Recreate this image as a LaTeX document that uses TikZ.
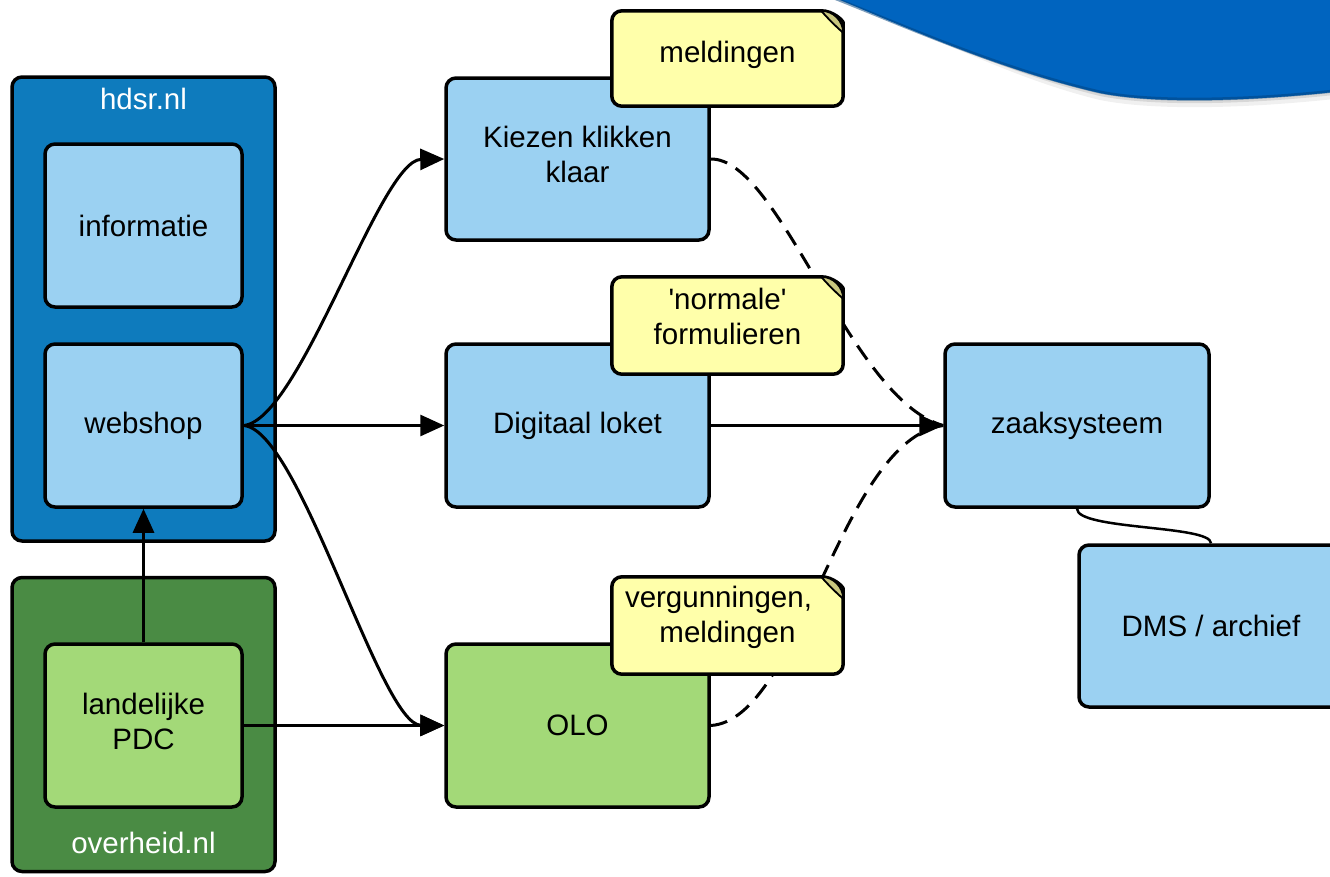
\documentclass[tikz,border=0pt]{standalone}
\usepackage{fontspec}
\setmainfont{Liberation Sans}
\usetikzlibrary{arrows.meta,calc}
\definecolor{hdsrblue}{HTML}{0E7BBD}
\definecolor{lightblue}{HTML}{9BD1F2}
\definecolor{darkgreen}{HTML}{4A8B44}
\definecolor{lightgreen}{HTML}{A3D978}
\definecolor{noteyellow}{HTML}{FFFFAA}
\definecolor{foldolive}{HTML}{C9C77E}
\definecolor{waveblue}{HTML}{0064BF}
\newcommand{\notedraw}[1]{%
  \draw[notestyle,rounded corners=10pt] ($(#1.north east)+(-22,0)$) -- (#1.north west) -- (#1.south west) -- (#1.south east) -- ($(#1.north east)+(0,-22)$) [sharp corners] .. controls ($(#1.north east)+(0,-10)$) and ($(#1.north east)+(-10,0)$) .. cycle;
  \filldraw[fill=foldolive,draw=black,line width=1.8pt] ($(#1.north east)+(-22,0)$) .. controls ($(#1.north east)+(-10,0)$) and ($(#1.north east)+(0,-10)$) .. ($(#1.north east)+(0,-22)$) .. controls ($(#1.north east)+(-6,-17)$) and ($(#1.north east)+(-17,-6)$) .. cycle;
}
\begin{document}
\begin{tikzpicture}[x=1pt,y=1pt,
  txtfont/.style={font=\fontsize{29.5pt}{35pt}\selectfont},
  box/.style={draw=black,line width=3.5pt,rounded corners=10pt,inner sep=0pt,align=center,txtfont},
  container/.style={box,minimum width=263pt},
  bluebox/.style={box,fill=lightblue,minimum width=263pt,minimum height=163pt},
  innerbox/.style={box,minimum width=197pt,minimum height=163pt},
  noteshape/.style={inner sep=0pt,minimum width=231pt,minimum height=95pt},
  notestyle/.style={draw=black,line width=3.5pt,fill=noteyellow},
  notetext/.style={txtfont,align=center,inner sep=0pt},
  whitetext/.style={txtfont,text=white,inner sep=0pt},
  conn/.style={draw=black,line width=3pt,-{Triangle[length=24pt,width=21pt]}},
  dashconn/.style={draw=black,line width=3pt,dash pattern=on 17pt off 10pt},
  plainconn/.style={draw=black,line width=2.5pt}
]
\useasboundingbox (0,0) rectangle (1330,-876);
\clip (0,0) rectangle (1330,-876);
\fill[white] (0,0) rectangle (1330,-876);

% wave at the top right
\fill[black,opacity=0.06] (829,3) .. controls (900,-19) and (1000,-76) .. (1100,-100) .. controls (1160,-112) and (1260,-107) .. (1334,-99) -- (1334,3) -- cycle;
\fill[black,opacity=0.10] (831,3) .. controls (900,-22) and (1000,-72) .. (1100,-96) .. controls (1160,-108) and (1260,-103) .. (1334,-95) -- (1334,3) -- cycle;
\fill[waveblue] (833,3) .. controls (900,-25) and (1000,-70) .. (1100,-93) .. controls (1160,-105) and (1260,-100) .. (1334,-92) -- (1334,3) -- cycle;
\draw[waveblue!65!black,line width=3pt,opacity=0.5] (834,2) .. controls (900,-24) and (1000,-69) .. (1100,-92) .. controls (1160,-104) and (1260,-99) .. (1334,-91);

% containers
\node[container,fill=hdsrblue,minimum height=464pt] (hdsr) at (143.5,-309) {};
\node[whitetext] (hdsrlbl) at (143.5,-99) {hdsr.nl};
\node[container,fill=darkgreen,minimum height=294pt] (overheid) at (143.5,-724.5) {};
\node[whitetext] (overheidlbl) at (143.5,-843) {overheid.nl};

% inner boxes
\node[innerbox,fill=lightblue] (informatie) at (143.5,-225.5) {informatie};
\node[innerbox,fill=lightblue] (webshop) at (143.5,-425.5) {webshop};
\node[innerbox,fill=lightgreen] (pdc) at (143.5,-725.5) {landelijke\\PDC\\[-27pt]\mbox{}};

% middle column
\node[bluebox,minimum height=162pt] (kkk) at (577.5,-159) {Kiezen klikken\\klaar\\[-25pt]\mbox{}};
\node[bluebox] (loket) at (577.5,-425.5) {Digitaal loket};
\node[bluebox,fill=lightgreen] (olo) at (577.5,-725.5) {OLO};

% right column
\node[bluebox,minimum width=264pt] (zaak) at (1077,-425.5) {zaaksysteem};
\node[bluebox,minimum width=264pt,minimum height=162pt] (dms) at (1211,-626) {DMS / archief};

% connectors
\draw[conn] (pdc.north) -- (webshop.south);
\draw[conn] (pdc.east) -- (olo.west);
\draw[conn] (webshop.east) .. controls (300,-420) and (380,-160) .. (kkk.west);
\draw[conn] (webshop.east) -- (loket.west);
\draw[conn] (webshop.east) .. controls (300,-430) and (380,-725) .. (olo.west);
\draw[conn] (loket.east) -- (zaak.west);
\draw[dashconn] (kkk.east) .. controls (780,-158) and (850,-400) .. (zaak.west);
\draw[dashconn] (olo.east) .. controls (800,-720) and (840,-440) .. (zaak.west);
\draw[plainconn] (zaak.south) .. controls (1077,-530) and (1211,-525) .. (dms.north);

% notes
\node[noteshape] (note1) at (727.5,-58.5) {};
\notedraw{note1}
\node[notetext] (note1t) at (727.5,-55) {meldingen};
\node[noteshape,minimum height=97pt] (note2) at (727.5,-325.5) {};
\notedraw{note2}
\node[notetext] (note2t) at (727.5,-316) {\textquotesingle normale\textquotesingle\\formulieren};
\node[noteshape,minimum height=97pt] (note3) at (727.5,-625.5) {};
\notedraw{note3}
\node[notetext] (note3t) at (727.5,-617) {vergunningen,\hspace*{18pt}\\meldingen};
\end{tikzpicture}
\end{document}
